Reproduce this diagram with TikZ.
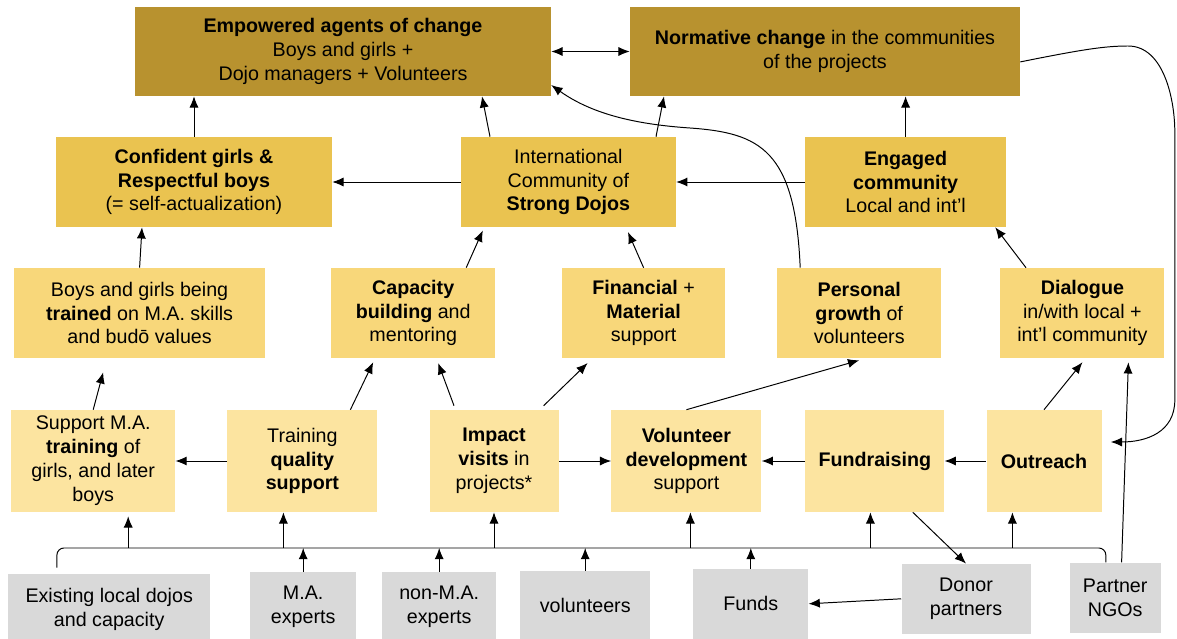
\documentclass[tikz,border=0pt]{standalone}
\usepackage{fontspec}
\setmainfont{Liberation Sans}
\usetikzlibrary{arrows.meta, positioning}
\definecolor{goalgold}{RGB}{184,146,47}
\definecolor{outcomegold}{RGB}{234,195,80}
\definecolor{resultgold}{RGB}{248,215,122}
\definecolor{activitygold}{RGB}{252,228,160}
\definecolor{resourcegray}{RGB}{217,217,217}
\tikzstyle{arrow} = [line width=0.7pt,->,>={Latex[length=8pt,width=6.5pt]}]
\tikzstyle{busline} = [line width=0.7pt, rounded corners=5pt]
\tikzstyle{block} = [rectangle, inner sep=0pt, align=center, font=\fontsize{14}{17}\selectfont]
\tikzstyle{goal} = [block, fill=goalgold, minimum height=2.225cm]
\tikzstyle{outcome} = [block, fill=outcomegold, minimum height=2.25cm]
\tikzstyle{result} = [block, fill=resultgold, minimum height=2.25cm]
\tikzstyle{activity} = [block, fill=activitygold, minimum height=2.55cm]
\tikzstyle{resource} = [block, fill=resourcegray, minimum height=1.75cm]

\begin{document}
\begin{tikzpicture}[node distance=2cm]
\useasboundingbox (0,0) rectangle (29.425,-15.975);

% Goals
\node (agents) [goal, minimum width=10.4cm] at (8.575,-1.2875) {\textbf{Empowered agents of change}\\Boys and girls +\\Dojo managers + Volunteers};
\node (normative) [goal, right of=agents, xshift=10.05cm, minimum width=9.75cm] {\textbf{Normative change} in the communities\\of the projects};

% Outcomes
\node (confident) [outcome, below of=agents, xshift=-3.725cm, yshift=-1.2625cm, minimum width=6.9cm] {\textbf{Confident girls \&}\\\textbf{Respectful boys}\\(= self-actualization)};
\node (dojos) [outcome, right of=confident, xshift=7.36cm, minimum width=5.375cm] {International\\Community of\\\textbf{Strong Dojos}};
\node (engaged) [outcome, right of=dojos, xshift=6.43cm, minimum width=5.025cm] {\textbf{Engaged}\\\textbf{community}\\Local and int’l};

% Results
\node (trained) [result, below of=confident, xshift=-1.36cm, yshift=-1.275cm, minimum width=6.275cm] {Boys and girls being\\\textbf{trained} on M.A. skills\\and budō values};
\node (capacity) [result, right of=trained, xshift=4.84cm, minimum width=4.1cm] {\textbf{Capacity}\\\textbf{building} and\\mentoring};
\node (financial) [result, right of=capacity, xshift=3.76cm, minimum width=4.075cm] {\textbf{Financial} +\\\textbf{Material}\\support};
\node (personal) [result, right of=financial, xshift=3.39cm, minimum width=4.1cm] {\textbf{Personal}\\\textbf{growth} of\\volunteers};
\node (dialogue) [result, right of=personal, xshift=3.58cm, minimum width=4.1cm] {\textbf{Dialogue}\\in/with local +\\int’l community};

% Activities
\node (support) [activity, below of=trained, xshift=-1.16cm, yshift=-1.7cm, minimum width=4.1cm] {Support M.A.\\\textbf{training} of\\girls, and later\\boys};
\node (quality) [activity, right of=support, xshift=3.23cm, minimum width=3.75cm] {Training\\\textbf{quality}\\\textbf{support}};
\node (impact) [activity, right of=quality, xshift=2.79cm, minimum width=3.225cm] {\textbf{Impact}\\\textbf{visits} in\\projects*};
\node (voldev) [activity, right of=impact, xshift=2.81cm, minimum width=3.75cm] {\textbf{Volunteer}\\\textbf{development}\\support};
\node (fundraising) [activity, right of=voldev, xshift=2.71cm, minimum width=3.475cm] {\textbf{Fundraising}};
\node (outreach) [activity, right of=fundraising, xshift=2.23cm, minimum width=2.875cm] {\textbf{Outreach}};

% Resources
\node (existing) [resource, below of=support, xshift=0.4cm, yshift=-1.7cm, minimum width=5.05cm] {Existing local dojos\\and capacity};
\node (maexperts) [resource, right of=existing, xshift=2.85cm, yshift=0.05cm, minimum width=2.65cm] {M.A.\\experts};
\node (nonmaexperts) [resource, right of=maexperts, xshift=1.4cm, minimum width=2.85cm] {non-M.A.\\experts};
\node (volunteers) [resource, right of=nonmaexperts, xshift=1.65cm, yshift=0.03cm, minimum width=3.25cm] {volunteers};
\node (funds) [resource, right of=volunteers, xshift=2.14cm, yshift=0.05cm, minimum width=2.875cm] {Funds};
\node (donors) [resource, right of=funds, xshift=3.38cm, yshift=0.125cm, minimum width=3.225cm] {Donor\\partners};
\node (ngos) [resource, right of=donors, xshift=1.73cm, yshift=0.03cm, minimum width=2.275cm] {Partner\\NGOs};

% Resource bus
\coordinate (bus) at (14,-13.7);
\draw [busline] ([xshift=1.225cm, yshift=0.15cm]existing.north west) |- (bus) -| ([xshift=0.91cm]ngos.north west);
\draw [arrow] (maexperts.north) -- (maexperts.north |- bus);
\draw [arrow] (nonmaexperts.north) -- (nonmaexperts.north |- bus);
\draw [arrow] (volunteers.north) -- (volunteers.north |- bus);
\draw [arrow] (funds.north) -- (funds.north |- bus);
\draw [arrow] ([xshift=0.875cm]support.south |- bus) -- ([xshift=0.875cm, yshift=-0.1cm]support.south);
\draw [arrow] ([xshift=-0.475cm]quality.south |- bus) -- ([xshift=-0.475cm]quality.south);
\draw [arrow] (impact.south |- bus) -- (impact.south);
\draw [arrow] ([xshift=0.1cm]voldev.south |- bus) -- ([xshift=0.1cm]voldev.south);
\draw [arrow] ([xshift=-0.11cm]fundraising.south |- bus) -- ([xshift=-0.11cm]fundraising.south);
\draw [arrow] ([xshift=-0.79cm]outreach.south |- bus) -- ([xshift=-0.79cm]outreach.south);

% Resources to activities
\draw [arrow] ([xshift=0.95cm]fundraising.south) -- (donors.north);
\draw [arrow] (donors.west) -- (funds.east);
\draw [arrow] ([xshift=0.16cm]ngos.north) -- ([xshift=1.15cm, yshift=-0.1cm]dialogue.south);

% Activities among themselves
\draw [arrow] (outreach.west) -- (fundraising.east);
\draw [arrow] (fundraising.west) -- (voldev.east);
\draw [arrow] (impact.east) -- (voldev.west);
\draw [arrow] (quality.west) -- (support.east);

% Activities to results
\draw [arrow] (support.north) -- ([xshift=-0.91cm, yshift=-0.35cm]trained.south);
\draw [arrow] ([xshift=1.2cm]quality.north) -- ([xshift=-1cm, yshift=-0.1cm]capacity.south);
\draw [arrow] ([xshift=-1cm, yshift=0.1cm]impact.north) -- ([xshift=0.625cm, yshift=-0.12cm]capacity.south);
\draw [arrow] ([xshift=1.24cm, yshift=0.1cm]impact.north) -- ([xshift=-1.4cm, yshift=-0.12cm]financial.south);
\draw [arrow] (voldev.north) -- ([yshift=-0.05cm]personal.south);
\draw [arrow] (outreach.north) -- ([yshift=-0.1cm]dialogue.south);

% Results to outcomes
\draw [arrow] (trained.north) -- ([xshift=-1.3cm]confident.south);
\draw [arrow] ([xshift=1.325cm]capacity.north) -- ([xshift=-2.14cm, yshift=-0.08cm]dojos.south);
\draw [arrow] (financial.north) -- ([xshift=1.49cm, yshift=-0.12cm]dojos.south);
\draw [arrow] ([xshift=-1.41cm]dialogue.north) -- ([xshift=2.24cm]engaged.south);

% Outcomes among themselves
\draw [arrow] (dojos.west) -- (confident.east);
\draw [arrow] (engaged.west) -- (dojos.east);

% Outcomes to goals
\draw [arrow] (confident.north) -- (confident.north |- agents.south);
\draw [arrow] ([xshift=-1.96cm]dojos.north) -- ([xshift=3.475cm]agents.south);
\draw [arrow] ([xshift=2.19cm]dojos.north) -- ([xshift=-4.025cm]normative.south);
\draw [arrow] (engaged.north) -- (engaged.north |- normative.south);
\draw [arrow] ([xshift=-1.475cm]personal.north) .. controls +(-0.125,2.95) and +(1.75,-0.125) .. (17.25,-3.2) .. controls +(-1.5,0.1) and +(0.95,-0.675) .. ([yshift=-0.84cm]agents.east);
\draw [arrow, <->] (agents.east) -- (normative.west);

% Feedback loop
\draw [arrow] ([yshift=-0.26cm]normative.east) .. controls +(1.5,0.3) and +(-0.6,0) .. (28.2,-1.15) .. controls +(0.9,0) and +(0,0.8) .. (29.37,-3.3) -- (29.37,-10.0) .. controls +(0,-0.8) and +(0.9,0) .. ([xshift=0.225cm, yshift=0.475cm]outreach.east);

\end{tikzpicture}
\end{document}
